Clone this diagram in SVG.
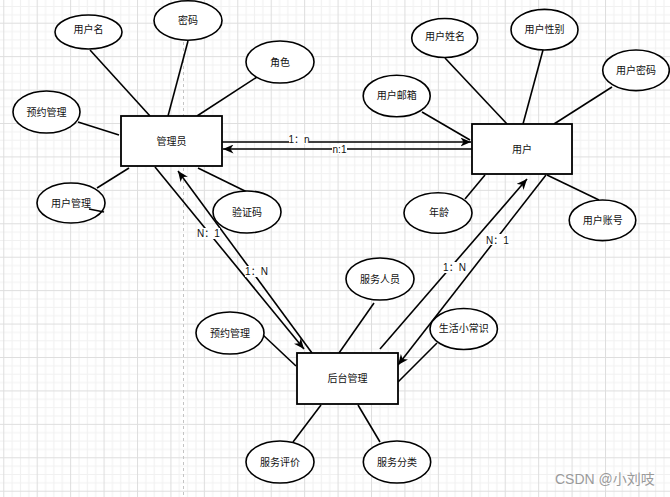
<svg xmlns="http://www.w3.org/2000/svg" width="670" height="497" viewBox="0 0 670 497">
<defs>
<pattern id="grid" x="3.27" y="22.7" width="33.43" height="33.43" patternUnits="userSpaceOnUse">
<rect width="33.43" height="33.43" fill="#ffffff"/>
<path d="M8.86,0V33.43M17.21,0V33.43M25.57,0V33.43M0,8.86H33.43M0,17.21H33.43M0,25.57H33.43" stroke="#f1f1f1" stroke-width="1" fill="none"/>
<path d="M0.5,0V33.43M0,0.5H33.43" stroke="#dedede" stroke-width="1" fill="none"/>
</pattern>
<marker id="arr" markerUnits="userSpaceOnUse" markerWidth="11" markerHeight="9" refX="10.5" refY="4.5" orient="auto" viewBox="0 0 11 9">
<path d="M10.5,4.5 L0,0 L3,4.5 L0,9 Z" fill="#000"/>
</marker>
<style>
.ent{fill:#fff;stroke:#000;stroke-width:1.8}
.att{fill:#fff;stroke:#000;stroke-width:1.6}
.ln{stroke:#000;stroke-width:1.6;fill:none}
.rel{stroke:#000;stroke-width:1.6;fill:none;marker-end:url(#arr)}
text{font-family:"Liberation Sans","Noto Sans CJK SC",sans-serif;font-size:10px;fill:#111;text-anchor:middle}
.lbl{fill:#fff}
.wm{font-family:"Liberation Sans","Noto Sans CJK SC",sans-serif;font-size:14px;fill:#9a9a9a;text-anchor:start}
</style>
</defs>
<rect width="670" height="497" fill="url(#grid)"/>
<line x1="183.5" y1="42" x2="183.5" y2="497" stroke="#c4c4c4" stroke-width="1" stroke-dasharray="3,3"/>

<g id="connectors">
<line class="ln" x1="90" y1="50" x2="150" y2="116"/>
<line class="ln" x1="188" y1="41" x2="168" y2="116"/>
<line class="ln" x1="257" y1="77" x2="197" y2="116"/>
<line class="ln" x1="78" y1="122" x2="119" y2="135"/>
<line class="ln" x1="97" y1="188" x2="129" y2="168"/>
<line class="ln" x1="198" y1="168" x2="247" y2="192"/>
<line class="ln" x1="445" y1="58" x2="507" y2="124"/>
<line class="ln" x1="543" y1="50" x2="523" y2="124"/>
<line class="ln" x1="612" y1="87" x2="554" y2="124"/>
<line class="ln" x1="422" y1="112" x2="470" y2="140"/>
<line class="ln" x1="465" y1="199" x2="485" y2="175"/>
<line class="ln" x1="599" y1="200" x2="547" y2="175"/>
<line class="ln" x1="263" y1="335" x2="296" y2="366"/>
<line class="ln" x1="293" y1="442" x2="321" y2="405"/>
<line class="ln" x1="374" y1="303" x2="339" y2="353"/>
<line class="ln" x1="437" y1="343" x2="398" y2="382"/>
<line class="ln" x1="380" y1="442" x2="358" y2="405"/>

<line class="rel" x1="222" y1="142" x2="471" y2="142"/>
<line class="rel" x1="472" y1="149" x2="223" y2="149"/>
<line class="rel" x1="155" y1="167" x2="304" y2="349"/>
<line class="rel" x1="312" y1="353" x2="178" y2="171"/>
<line class="rel" x1="380" y1="349" x2="527" y2="179"/>
<line class="rel" x1="546" y1="175" x2="398" y2="365"/>

<rect class="lbl" x="289" y="134" width="20" height="10"/>
<text x="299" y="143">1：n</text>
<rect class="lbl" x="332" y="144" width="15" height="10"/>
<text x="339.5" y="152.5">n:1</text>
<rect class="lbl" x="197" y="228" width="23" height="11"/>
<text x="208.5" y="236.5">N：1</text>
<rect class="lbl" x="245" y="266" width="23" height="11"/>
<text x="256.5" y="275">1：N</text>
<rect class="lbl" x="443" y="262" width="23" height="11"/>
<text x="454.5" y="271">1：N</text>
<rect class="lbl" x="486" y="234" width="23" height="11"/>
<text x="497.5" y="243.5">N：1</text>
</g>

<g id="admin"><rect class="ent" x="121" y="116" width="101" height="50"/><text x="171.5" y="144.5">管理员</text></g>
<g id="user"><rect class="ent" x="472" y="124" width="100" height="50"/><text x="522" y="152.5">用户</text></g>
<g id="backend"><rect class="ent" x="297" y="353" width="101" height="51"/><text x="347.5" y="382">后台管理</text></g>

<g id="a-username"><ellipse class="att" cx="88.5" cy="32" rx="33.5" ry="17"/><text x="88.5" y="33">用户名</text></g>
<g id="a-password"><ellipse class="att" cx="188" cy="20.5" rx="34" ry="19.7"/><text x="188" y="23.5">密码</text></g>
<g id="a-role"><ellipse class="att" cx="280" cy="62" rx="34" ry="21"/><text x="280" y="65.5">角色</text></g>
<g id="a-booking1"><ellipse class="att" cx="46.5" cy="112" rx="33.5" ry="21"/><text x="46.5" y="115.5">预约管理</text></g>
<g id="a-usermgmt"><ellipse class="att" cx="71" cy="203" rx="34" ry="20"/><text x="71" y="206.5">用户管理</text><line class="ln" x1="89" y1="209" x2="104" y2="212"/></g>
<g id="a-captcha"><ellipse class="att" cx="247" cy="212" rx="34" ry="21"/><text x="247" y="215.5">验证码</text></g>

<g id="a-realname"><ellipse class="att" cx="444.7" cy="38" rx="33" ry="19.5"/><text x="445" y="39.5">用户姓名</text></g>
<g id="a-gender"><ellipse class="att" cx="544.5" cy="29.7" rx="33.5" ry="20.3"/><text x="544.5" y="32.8">用户性别</text></g>
<g id="a-userpwd"><ellipse class="att" cx="636" cy="70.3" rx="33.3" ry="20.3"/><text x="636" y="73.5">用户密码</text></g>
<g id="a-email"><ellipse class="att" cx="396.7" cy="96" rx="33.5" ry="20.8"/><text x="396.7" y="99.2">用户邮箱</text></g>
<g id="a-age"><ellipse class="att" cx="438" cy="213" rx="34" ry="20.3"/><text x="439" y="216">年龄</text></g>
<g id="a-account"><ellipse class="att" cx="602.5" cy="220.3" rx="33.3" ry="20.3"/><text x="602.7" y="223.5">用户账号</text></g>

<g id="a-booking2"><ellipse class="att" cx="230" cy="333" rx="34" ry="21"/><text x="230" y="336.5">预约管理</text></g>
<g id="a-staff"><ellipse class="att" cx="380" cy="279" rx="34" ry="21"/><text x="380" y="282.5">服务人员</text></g>
<g id="a-tips"><ellipse class="att" cx="463.7" cy="329" rx="33.7" ry="20.5"/><text x="463.7" y="332.3">生活小常识</text></g>
<g id="a-review"><ellipse class="att" cx="280" cy="462" rx="34" ry="21"/><text x="280" y="465.5">服务评价</text></g>
<g id="a-category"><ellipse class="att" cx="397" cy="462" rx="33.7" ry="21"/><text x="397" y="465.5">服务分类</text></g>

<text class="wm" x="555" y="484">CSDN @小刘吱</text>
</svg>
